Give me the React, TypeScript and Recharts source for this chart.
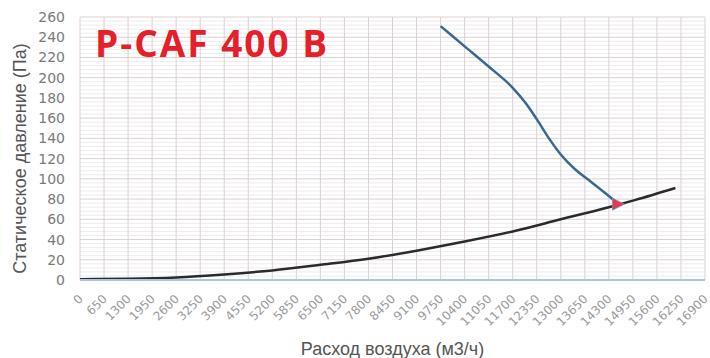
import {
  CartesianGrid,
  Line,
  LineChart,
  ReferenceDot,
  XAxis,
  YAxis,
} from "recharts";

// fan curve P-CAF 400 B (m3/h, Pa)
const fanFlow = [9750, 10400, 11050, 11700, 12050, 12350, 12700, 13000, 13400, 13750, 14200, 14560];
const fanPressure = [251, 231, 211, 190, 175, 159, 139, 124, 109, 99, 86, 75];

// system (network) curve
const sysFlow = [0, 1300, 2600, 3900, 5200, 6500, 7800, 9100, 10400, 11700, 13000, 14300, 15000, 16100];
const sysPressure = [0.8, 1.2, 2.5, 5.5, 9.5, 15, 21, 29, 38, 48, 60, 72, 79, 91];

// working point
const workFlow = 14560;
const workPressure = 75;

const xTicks = [
  0, 650, 1300, 1950, 2600, 3250, 3900, 4550, 5200, 5850, 6500, 7150, 7800,
  8450, 9100, 9750, 10400, 11050, 11700, 12350, 13000, 13650, 14300, 14950,
  15600, 16250, 16900,
];
const yTicks = [0, 20, 40, 60, 80, 100, 120, 140, 160, 180, 200, 220, 240, 260];
const yMinor = [
  4, 8, 12, 16, 24, 28, 32, 36, 44, 48, 52, 56, 64, 68, 72, 76, 84, 88, 92, 96,
  104, 108, 112, 116, 124, 128, 132, 136, 144, 148, 152, 156, 164, 168, 172, 176,
  184, 188, 192, 196, 204, 208, 212, 216, 224, 228, 232, 236, 244, 248, 252, 256,
];

const fanData = fanFlow.map((x, i) => ({ x, y: fanPressure[i] }));
const sysData = sysFlow.map((x, i) => ({ x, y: sysPressure[i] }));

const XTick = (props: any) => {
  const { x, y, payload } = props;
  return (
    <g transform={`translate(${x - 2},${y + 6})`}>
      <text
        transform="rotate(-45)"
        textAnchor="end"
        dy={8}
        fontSize={12}
        style={{ fontFamily: "'DejaVu Sans', sans-serif" }}
        fill="#9a9a9a"
      >
        {payload.value}
      </text>
    </g>
  );
};

const Marker = (props: any) => {
  const { cx, cy } = props;
  return (
    <path
      d={`M${cx - 6},${cy - 6} L${cx + 6},${cy} L${cx - 6},${cy + 6} Z`}
      fill="#e53a4a"
      stroke="#7a8fd0"
      strokeWidth={0.8}
    />
  );
};

export default function App() {
  return (
    <div
      style={{
        position: "absolute",
        left: 0,
        top: 0,
        width: 710,
        height: 358,
        background: "#fff",
      }}
    >
      <LineChart
        width={710}
        height={358}
        margin={{ top: 17, right: 5, left: 0, bottom: 0 }}
      >
        <CartesianGrid
          horizontalValues={yMinor}
          vertical={false}
          stroke="#ececf1"
        />
        <CartesianGrid
          horizontalValues={yTicks}
          verticalValues={xTicks}
          stroke="#ddd0d0"
        />
        <XAxis
          type="number"
          dataKey="x"
          domain={[0, 16900]}
          ticks={xTicks}
          interval={0}
          height={78}
          axisLine={{ stroke: "#a9c4e4", strokeWidth: 2 }}
          tickLine={false}
          tick={<XTick />}
          label={{
            value: "Расход воздуха (м3/ч)",
            position: "insideBottom",
            offset: 3,
            fill: "#555",
            fontSize: 18,
            style: { fontFamily: "'Liberation Sans', sans-serif" },
          }}
        />
        <YAxis
          type="number"
          domain={[0, 260]}
          ticks={yTicks}
          interval={0}
          width={80}
          axisLine={false}
          tickLine={false}
          tickMargin={9}
          tick={{
            fontSize: 14,
            fill: "#7a7a7a",
            style: { fontFamily: "'DejaVu Sans', sans-serif" },
          }}
          label={{
            value: "Статическое давление (Па)",
            angle: -90,
            position: "insideLeft",
            offset: 20,
            dy: 10,
            fill: "#555",
            fontSize: 18,
            style: {
              textAnchor: "middle",
              fontFamily: "'Liberation Sans', sans-serif",
            },
          }}
        />
        <Line
          data={sysData}
          dataKey="y"
          type="monotone"
          stroke="#2b2b2b"
          strokeWidth={2.5}
          dot={false}
          isAnimationActive={false}
        />
        <Line
          data={fanData}
          dataKey="y"
          type="monotone"
          stroke="#3b6892"
          strokeWidth={2.5}
          dot={false}
          isAnimationActive={false}
        />
        <ReferenceDot x={workFlow} y={workPressure} shape={<Marker />} />
      </LineChart>
      <div
        style={{
          position: "absolute",
          left: 95,
          top: 20,
          fontFamily: "'Open Sans', sans-serif",
          fontWeight: 700,
          fontSize: 37,
          letterSpacing: 2,
          lineHeight: "46px",
          color: "#e5202a",
          whiteSpace: "nowrap",
        }}
      >
        P-CAF 400 B
      </div>
    </div>
  );
}
